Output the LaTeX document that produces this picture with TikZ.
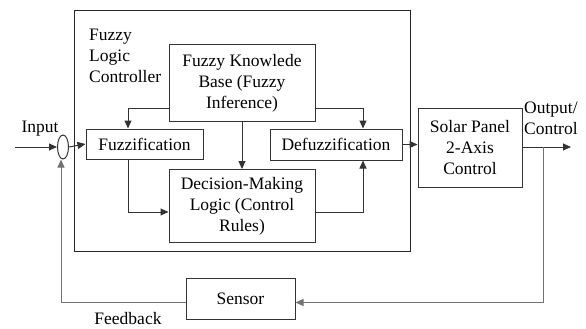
\documentclass[tikz,border=0pt]{standalone}
\usepackage{fontspec}
\setmainfont{Liberation Serif}
\newfontfamily\tnrfont{Liberation Serif}
\usetikzlibrary{arrows.meta,shapes.geometric}
\begin{document}
\begin{tikzpicture}[x=1pt,y=-1pt,
  txt/.style={font=\tnrfont\fontsize{17.5}{21}\selectfont},
  blk/.style={draw=black!80,line width=1pt,inner sep=0pt,align=center,txt},
  con/.style={draw=black!80,line width=1pt,-{Triangle[length=8pt,width=7pt]}},
  fb/.style={draw=black!55,line width=1pt}]
\useasboundingbox (0,0) rectangle (586,329);
% outer controller box
\node[draw=black!85,line width=1pt,minimum width=336pt,minimum height=240pt,inner sep=0pt] (flc) at (242,131) {};
\node[txt,anchor=north west,inner sep=0pt,align=left] (flcl) at (89,29) {Fuzzy\\Logic\\Controller};
% blocks
\node[blk,minimum width=146pt,minimum height=76pt] (kb) at (242,83) {Fuzzy Knowlede\\Base (Fuzzy\\Inference)};
\node[blk,minimum width=117pt,minimum height=30pt] (fz) at (144.5,144) {Fuzzification};
\node[blk,minimum width=132pt,minimum height=31pt] (dz) at (336,144.5) {Defuzzification};
\node[blk,minimum width=146pt,minimum height=73pt] (dm) at (242,206) {Decision-Making\\Logic (Control\\Rules)};
\node[blk,minimum width=104pt,minimum height=79pt] (sp) at (470,147.5) {Solar Panel\\2-Axis\\Control};
\node[blk,minimum width=109pt,minimum height=41pt] (se) at (240.5,298.5) {Sensor};
\node[draw=black!80,line width=1pt,ellipse,minimum width=11pt,minimum height=24pt,inner sep=0pt] (sum) at (63,147) {};
% labels
\node[txt,inner sep=0pt] (inl) at (40,129) {Input};
\node[txt,inner sep=0pt,align=left,anchor=west] (outl) at (524,118) {Output/\\Control};
\node[txt,inner sep=0pt] (fbl) at (128,319) {Feedback};
% coordinates
\coordinate (in0) at (15,147);
\coordinate (out0) at (571,147);
\coordinate (tap) at (543,147);
\coordinate (tapb) at (543,302.5);
\coordinate (fbc) at (61,302.5);
% connectors
\draw[con] (in0) -- (sum.west);
\draw[con] (sum.east) -- (fz.west);
\draw[con] (kb.west |- 0,108) -| (fz.north -| 128,0);
\draw[con] (kb.east |- 0,108) -| (dz.north -| 363,0);
\draw[con] (kb.south) -- (dm.north);
\draw[con] (fz.south -| 128,0) |- (dm.west |- 0,212);
\draw[con] (dm.east |- 0,212) -| (dz.south -| 363,0);
\draw[con] (dz.east) -- (sp.west |- dz.east);
\draw[con] (sp.east |- 0,147) -- (out0);
\draw[fb] (tap) -- (tapb);
\draw[fb,-{Triangle[length=8pt,width=7pt]}] (tapb) -- (se.east |- tapb);
\draw[fb,-{Triangle[length=8pt,width=7pt]}] (se.west |- fbc) -- (fbc) -- (sum.south -| fbc);
\end{tikzpicture}
\end{document}
